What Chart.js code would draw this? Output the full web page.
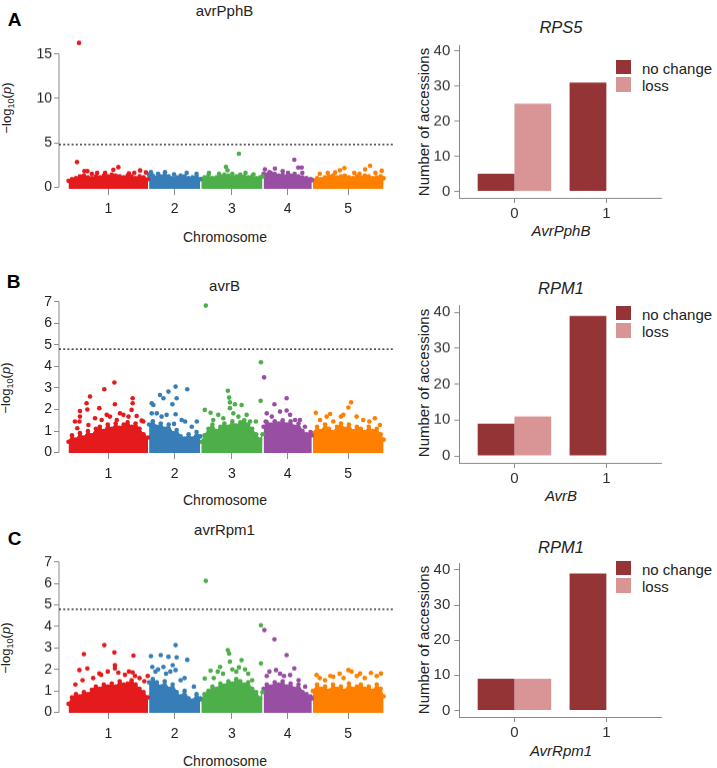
<!DOCTYPE html>
<html>
<head>
<meta charset="utf-8">
<script src="https://cdn.jsdelivr.net/npm/chart.js@4.4.1/dist/chart.umd.min.js"></script>
<style>
  body { margin: 0; width: 717px; height: 768px; position: relative; overflow: hidden; background: #fff;
         font-family: "Liberation Sans", Arial, sans-serif; color: #222; }
  canvas { position: absolute; }
  .t { position: absolute; white-space: nowrap; line-height: 1; transform: translate(-50%, -50%); }
  .rot { transform: translate(-50%, -50%) rotate(-90deg); }
  .letter { font-weight: bold; font-size: 19px; color: #000; }
  .mt { font-size: 15px; }
  .mx { font-size: 14px; }
  .my { font-size: 13px; }
  .my sub { font-size: 70%; vertical-align: -0.25em; }
  .bt { font-size: 16.5px; font-style: italic; }
  .bx { font-size: 15px; font-style: italic; }
  .by { font-size: 15px; }
  .sw { position: absolute; left: 616px; width: 15px; height: 14.5px; }
  .lg { position: absolute; left: 642px; font-size: 15px; line-height: 1; transform: translateY(-50%); white-space: nowrap; }
</style>
</head>
<body>

<div class="t letter" style="left:14.5px;top:19.3px">A</div>
<div class="t letter" style="left:13.5px;top:280.5px">B</div>
<div class="t letter" style="left:14.5px;top:538.3px">C</div>

<div class="t mt" style="left:224.5px;top:10px">avrPphB</div>
<div class="t mt" style="left:224.5px;top:285px">avrB</div>
<div class="t mt" style="left:224.5px;top:528.7px">avrRpm1</div>

<div class="t mx" style="left:225px;top:237px">Chromosome</div>
<div class="t mx" style="left:225px;top:500.3px">Chromosome</div>
<div class="t mx" style="left:225px;top:760.8px">Chromosome</div>

<div class="t my rot" style="left:8px;top:107.5px">&minus;log<sub>10</sub>(<i>p</i>)</div>
<div class="t my rot" style="left:7px;top:388px">&minus;log<sub>10</sub>(<i>p</i>)</div>
<div class="t my rot" style="left:7px;top:648px">&minus;log<sub>10</sub>(<i>p</i>)</div>

<div class="t bt" style="left:561px;top:27.2px">RPS5</div>
<div class="t bt" style="left:561px;top:288.3px">RPM1</div>
<div class="t bt" style="left:561px;top:546.7px">RPM1</div>

<div class="t bx" style="left:561px;top:230.3px">AvrPphB</div>
<div class="t bx" style="left:561px;top:495.3px">AvrB</div>
<div class="t bx" style="left:561px;top:750px">AvrRpm1</div>

<div class="t by rot" style="left:422.5px;top:121.7px">Number of accessions</div>
<div class="t by rot" style="left:422.5px;top:383.3px">Number of accessions</div>
<div class="t by rot" style="left:422.5px;top:640px">Number of accessions</div>

<div class="sw" style="top:59.7px;background:#943436"></div>
<div class="sw" style="top:77px;background:#d99596"></div>
<div class="lg" style="top:67.5px">no change</div>
<div class="lg" style="top:84.5px">loss</div>
<div class="sw" style="top:305.7px;background:#943436"></div>
<div class="sw" style="top:323px;background:#d99596"></div>
<div class="lg" style="top:313.5px">no change</div>
<div class="lg" style="top:330.5px">loss</div>
<div class="sw" style="top:560.7px;background:#943436"></div>
<div class="sw" style="top:578px;background:#d99596"></div>
<div class="lg" style="top:568.5px">no change</div>
<div class="lg" style="top:585.5px">loss</div>

<script>
// chromosomes (cumulative Mb)
const chromNames = ['1', '2', '3', '4', '5'];
const chromStart = [0, 30.4, 50.1, 73.6, 92.2];
const chromEnd = [30.4, 50.1, 73.6, 92.2, 119.2];
const chromColors = ['#e41a1c', '#377eb8', '#4daf4a', '#984ea3', '#ff7f00'];
const threshold = 4.8;

// dense SNP cloud: upper edge per chromosome [pos, -log10 p]
const envA = [
  [[0.2,0.7],[1.5,0.9],[3,1.0],[4.5,1.2],[6,1.3],[7.5,1.1],[9,1.0],[10.5,1.2],[12,1.1],[13.5,1.3],[15,1.2],[16.5,1.4],[18,1.3],[19.5,1.2],[21,1.1],[22.5,1.3],[24,1.2],[25.5,1.0],[27,1.2],[28.5,1.1],[30.2,0.9]],
  [[30.6,1.4],[32,1.3],[33.5,1.1],[35,1.2],[36.5,1.4],[38,1.2],[39.5,1.0],[41,1.1],[42.5,1.3],[44,1.2],[45.5,1.0],[47,1.1],[48.5,1.2],[49.9,0.9]],
  [[50.3,0.9],[51.5,1.1],[53,1.3],[54.5,1.0],[56,1.1],[57.5,1.2],[59,1.4],[60.5,1.3],[62,1.1],[63.5,1.2],[65,1.4],[66.5,1.2],[68,1.1],[69.5,1.2],[71,1.0],[72.5,1.1],[73.4,1.2]],
  [[73.8,1.5],[75,1.4],[76.5,1.6],[78,1.5],[79.5,1.3],[81,1.4],[82.5,1.2],[84,1.3],[85.5,1.5],[87,1.2],[88.5,1.1],[90,1.0],[91.5,0.9],[92.0,0.8]],
  [[92.4,0.8],[94,1.0],[95.5,0.9],[97,1.1],[98.5,1.2],[100,1.3],[101.5,1.1],[103,1.2],[104.5,1.3],[106,1.1],[107.5,1.0],[109,1.2],[110.5,1.1],[112,1.3],[113.5,1.2],[115,1.0],[116.5,1.1],[118,1.2],[119.1,1.0]]
];
const envB = [
  [[0.2,0.5],[1.5,0.8],[3,0.6],[4.5,0.9],[6,0.7],[7.5,1.0],[9,0.8],[10.5,1.1],[12,1.2],[13.5,1.0],[15,1.3],[16.5,1.1],[18,1.35],[19.5,1.15],[21,1.3],[22.5,1.4],[24,1.2],[25.5,1.35],[27,1.1],[28.5,0.85],[30.2,0.7]],
  [[30.6,1.3],[32,1.45],[33.5,1.2],[35,1.35],[36.5,1.1],[38,1.3],[39.5,0.9],[41,1.05],[42.5,0.75],[44,0.65],[45.5,0.85],[47,0.65],[48.5,0.95],[49.9,0.75]],
  [[50.3,0.5],[51.5,0.8],[53,1.1],[54.5,1.3],[56,1.0],[57.5,1.2],[59,1.35],[60.5,1.2],[62,1.45],[63.5,1.25],[65,1.4],[66.5,1.5],[68,1.3],[69.5,1.1],[71,0.85],[72.5,0.6],[73.4,0.85]],
  [[73.8,1.2],[75,1.4],[76.5,1.3],[78,1.45],[79.5,1.35],[81,1.5],[82.5,1.3],[84,1.45],[85.5,1.2],[87,1.35],[88.5,1.0],[90,0.85],[91.5,0.95],[92.0,0.8]],
  [[92.4,0.9],[94,1.2],[95.5,1.0],[97,1.3],[98.5,1.1],[100,0.95],[101.5,1.2],[103,1.35],[104.5,1.1],[106,1.3],[107.5,1.0],[109,1.2],[110.5,1.1],[112,0.95],[113.5,1.2],[115,1.0],[116.5,1.1],[118,0.85],[119.1,0.6]]
];
const envC = [
  [[0.2,0.4],[1.5,0.7],[3,0.85],[4.5,0.75],[6,0.95],[7.5,0.85],[9,1.05],[10.5,1.2],[12,1.1],[13.5,1.3],[15,1.2],[16.5,1.35],[18,1.2],[19.5,1.45],[21,1.3],[22.5,1.35],[24,1.5],[25.5,1.3],[27,1.1],[28.5,0.95],[30.2,0.7]],
  [[30.6,1.4],[32,1.55],[33.5,1.4],[35,1.2],[36.5,1.45],[38,1.1],[39.5,1.3],[41,0.95],[42.5,0.75],[44,1.0],[45.5,0.65],[47,0.55],[48.5,0.85],[49.9,0.65]],
  [[50.3,0.6],[51.5,0.85],[53,1.0],[54.5,1.2],[56,1.1],[57.5,1.35],[59,1.25],[60.5,1.45],[62,1.35],[63.5,1.55],[65,1.45],[66.5,1.3],[68,1.4],[69.5,1.1],[71,0.95],[72.5,0.65],[73.4,0.95]],
  [[73.8,1.1],[75,1.3],[76.5,1.2],[78,1.4],[79.5,1.3],[81,1.45],[82.5,1.2],[84,1.35],[85.5,1.1],[87,1.3],[88.5,0.95],[90,0.85],[91.5,0.75],[92.0,0.65]],
  [[92.4,1.0],[94,1.3],[95.5,1.1],[97,1.2],[98.5,1.0],[100,1.3],[101.5,1.1],[103,1.2],[104.5,1.0],[106,1.35],[107.5,1.1],[109,1.2],[110.5,1.3],[112,1.1],[113.5,1.2],[115,1.0],[116.5,1.3],[118,1.1],[119.1,0.75]]
];

// SNPs standing out above the cloud [pos, -log10 p]
const ptsA = [[4.15,16.27],[3.4,2.82],[6.2,1.8],[7.3,1.8],[11,1.6],[17.1,1.95],[19,2.25],[23,1.55],[27.2,1.88],[29.4,1.65],
  [9,1.5],[14,1.6],[25,1.6],
  [31.3,1.7],[36.6,1.7],[44.8,1.6],[48.5,1.5],[34,1.5],[40,1.45],
  [53.2,1.6],[59.6,2.3],[60.2,1.9],[64.5,3.76],[67,1.6],[57,1.5],[62,1.5],[70,1.45],
  [74.3,2.0],[78.1,2.1],[81,1.8],[85.4,3.08],[86.9,2.2],[88.2,2.2],[88.4,1.6],[76,1.7],[83,1.6],
  [100.8,1.65],[102.6,1.9],[104.3,2.15],[108,1.6],[112.1,2.0],[114,2.4],[118.4,1.85],[95,1.5],[98,1.6],[110,1.5],[116,1.6]];
const ptsB = [[4.5,1.93],[4.5,1.67],[4.3,1.44],[7.0,2.29],[8.3,2.6],[7.3,2.0],[11.8,2.06],[13.7,2.94],[17.5,3.25],[17.7,2.24],[24.4,2.52],[24.4,2.29],[24.0,1.98],[27.8,1.48],[15.8,1.67],[19.6,1.82],
  [2.6,1.44],[3.5,1.13],[7.7,1.28],[10.2,1.59],[12.7,1.51],[14.6,1.75],[18.4,1.51],[20.9,1.75],[22.8,1.67],[25.9,1.7],[28.4,1.44],
  [31.6,2.29],[32.2,2.21],[34.7,2.67],[36.0,2.52],[37.9,2.83],[40.6,3.06],[41.0,2.52],[39.4,2.24],[45.0,2.94],[40.6,1.78],[40.0,1.33],[31.6,1.82],[48.6,1.44],
  [33.5,1.82],[35.3,1.67],[37.2,1.75],[42.9,1.51],[44.2,1.44],[46.7,1.2],
  [52.0,6.82],[51.6,1.98],[53.8,1.85],[60.3,2.87],[60.8,2.55],[61.1,2.33],[63.0,2.24],[65.5,2.21],[61.1,2.06],[72.8,4.19],[72.7,2.4],[70.9,1.44],
  [54.8,1.51],[56.7,1.75],[58.6,1.59],[62.4,1.82],[64.3,1.67],[67.4,1.75],[68.7,1.44],
  [74.0,3.49],[77.9,2.24],[82.5,2.52],[82.5,1.95],[74.6,1.44],[87.5,1.51],
  [75.0,1.82],[76.9,1.67],[80.0,1.9],[83.8,1.75],[85.7,1.51],[89.4,1.2],
  [93.5,1.85],[98.9,1.79],[106.8,2.33],[105.8,2.09],[103.0,1.67],[113.7,1.44],[117.7,1.28],
  [95.1,1.51],[97.6,1.67],[100.1,1.44],[103.9,1.75],[108.9,1.67],[111.4,1.51],[115.8,1.59]];
const ptsC = [[6.0,2.71],[7.3,2.05],[4.3,1.97],[13.7,3.13],[17.5,2.79],[17.7,2.2],[17.7,2.05],[24.7,2.64],[24.4,1.86],[25.3,1.7],[30.1,1.7],[11.8,1.81],
  [2.8,1.3],[5.5,1.5],[9.5,1.6],[12.5,1.75],[15,1.9],[19,1.85],[21.5,1.75],[23,1.9],[27,1.6],[28.8,1.45],
  [31.3,2.62],[35.0,2.67],[37.9,2.59],[40.6,3.13],[41.0,2.56],[45.0,2.45],[39.5,2.2],[40.6,1.97],[31.8,2.12],[36.0,2.12],
  [33,1.9],[34,2.0],[37,1.8],[38.6,1.9],[42.5,1.5],[44,1.6],[47.5,1.2],
  [52.0,6.12],[51.6,1.58],[53.8,1.94],[57.4,2.12],[60.3,2.9],[60.8,2.74],[61.1,2.36],[62.0,2.0],[65.5,2.43],[66.8,2.0],[72.8,4.06],[72.8,2.28],
  [55,1.6],[56.5,1.9],[58.5,1.8],[63.5,1.9],[64.5,2.1],[68,1.8],[69.5,1.5],
  [74.1,3.83],[77.9,3.4],[82.5,2.67],[85.4,2.05],[78.5,1.97],[83.8,1.74],
  [75,1.7],[76,1.9],[80,1.8],[81.5,1.7],[87,1.5],[89.5,1.2],
  [105.8,1.97],[110.2,1.81],[114.3,1.84],[118.1,1.81],[93.8,1.74],[100.1,1.66],
  [95,1.6],[97,1.5],[99,1.7],[102.5,1.8],[104,1.6],[107,1.9],[109,1.7],[112,1.6],[116.5,1.7]];

// bar charts
const barCats = [0, 1];
const rps5NoChange = [5, 31];
const rps5Loss = [25, 0];
const rpm1AvrBNoChange = [9, 39];
const rpm1AvrBLoss = [11, 0];
const rpm1AvrRpm1NoChange = [9, 39];
const rpm1AvrRpm1Loss = [9, 0];
const barTicks = [0, 10, 20, 30, 40];

Chart.defaults.font.family = '"Liberation Sans", Arial, sans-serif';
Chart.defaults.animation = false;

function colorAt(pos) {
  for (let i = 0; i < chromEnd.length; i++) if (pos < chromEnd[i]) return chromColors[i];
  return chromColors[4];
}

function addCanvas(left, top, w, h) {
  const c = document.createElement('canvas');
  c.width = w; c.height = h;
  c.style.left = left + 'px'; c.style.top = top + 'px';
  c.style.width = w + 'px'; c.style.height = h + 'px';
  document.body.appendChild(c);
  return c;
}

// R style y axis: line only from 0 to the last tick
const rAxis = {
  id: 'rAxis',
  beforeDatasetsDraw(chart, args, opts) {
    const y = chart.scales.y, ctx = chart.ctx, x0 = chart.chartArea.left;
    ctx.save();
    ctx.strokeStyle = '#8a8a8a';
    ctx.lineWidth = 1;
    ctx.beginPath();
    ctx.moveTo(x0, y.getPixelForValue(0));
    ctx.lineTo(x0, y.getPixelForValue(opts.top));
    ctx.stroke();
    ctx.restore();
  }
};

const xMin = -3.4, xMax = 122.64;
const mids = chromStart.map((s, i) => (s + chromEnd[i]) / 2);

const manhattan = [
  { env: envA, pts: ptsA, yMin: -0.2, yMax: 17.5, yTicks: [0, 5, 10, 15], top: 0, zero: 187, k: 8.87, pad: 6, base: -0.2 },
  { env: envB, pts: ptsB, yMin: -0.02, yMax: 7.4, yTicks: [0, 1, 2, 3, 4, 5, 6, 7], top: 265, zero: 452.7, k: 21.57, pad: 7, base: -0.08 },
  { env: envC, pts: ptsC, yMin: -0.02, yMax: 7.4, yTicks: [0, 1, 2, 3, 4, 5, 6, 7], top: 525, zero: 712.3, k: 21.5, pad: 7, base: -0.08 }
];

manhattan.forEach(p => {
  const pt = p.zero - p.yMax * p.k - p.top;
  const h = (p.zero - p.yMin * p.k) - p.top + 30;
  const cv = addCanvas(0, p.top, 400, Math.round(h * 100) / 100);

  const datasets = [{
    data: p.pts.map(([x, y]) => ({ x, y })),
    pointRadius: 2.3, pointBorderWidth: 0,
    pointBackgroundColor: c => colorAt(c.raw.x),
    clip: false
  }];
  p.env.forEach((seg, i) => datasets.push({
    data: seg.map(([x, y]) => ({ x, y })),
    showLine: true, tension: 0,
    borderColor: chromColors[i], borderWidth: 1,
    backgroundColor: chromColors[i],
    fill: { value: p.base },
    pointRadius: 2.3, pointBorderWidth: 0, pointBackgroundColor: chromColors[i],
    clip: false
  }));
  datasets.push({
    data: [{ x: xMin, y: threshold }, { x: xMax, y: threshold }],
    showLine: true, borderColor: '#111', borderWidth: 1.4, borderDash: [2, 2.2],
    pointRadius: 0, clip: false
  });

  new Chart(cv, {
    type: 'scatter',
    data: { datasets },
    plugins: [rAxis],
    options: {
      responsive: false,
      devicePixelRatio: 1,
      layout: { padding: { top: pt, right: 7, left: 0, bottom: 0 } },
      plugins: { legend: { display: false }, tooltip: { enabled: false }, rAxis: { top: p.yTicks[p.yTicks.length - 1] } },
      scales: {
        x: {
          type: 'linear', min: xMin, max: xMax,
          afterBuildTicks: s => { s.ticks = mids.map(v => ({ value: v })); },
          afterFit: s => { s.height = 30; },
          border: { display: false },
          grid: { display: true, drawOnChartArea: false, drawTicks: true, tickLength: 6, color: '#8a8a8a' },
          ticks: { autoSkip: false, maxRotation: 0, padding: p.pad, color: '#222', font: { size: 14 },
                   callback: (v, i) => chromNames[i] }
        },
        y: {
          min: p.yMin, max: p.yMax,
          afterBuildTicks: s => { s.ticks = p.yTicks.map(v => ({ value: v })); },
          afterFit: s => { s.width = 59; },
          border: { display: false },
          grid: { display: true, drawOnChartArea: false, drawTicks: true, tickLength: 5, color: '#8a8a8a' },
          ticks: { padding: 2, color: '#222', font: { size: 14 } }
        }
      }
    }
  });
});

const bars = [
  { noChange: rps5NoChange, loss: rps5Loss, top: 20, zero: 191, k: 3.5, yMin: -1.9, yMax: 41.7 },
  { noChange: rpm1AvrBNoChange, loss: rpm1AvrBLoss, top: 280, zero: 455.7, k: 3.585, yMin: -1.95, yMax: 42.0 },
  { noChange: rpm1AvrRpm1NoChange, loss: rpm1AvrRpm1Loss, top: 540, zero: 710.7, k: 3.5175, yMin: -1.88, yMax: 41.9 }
];

bars.forEach(b => {
  const pt = b.zero - b.yMax * b.k - b.top;
  const h = (b.zero - b.yMin * b.k) - b.top + 30;
  const cv = addCanvas(400, b.top, 317, Math.round(h * 100) / 100);
  new Chart(cv, {
    type: 'bar',
    data: {
      datasets: [
        { label: 'no change', data: barCats.map((c, i) => ({ x: c, y: b.noChange[i] })), backgroundColor: '#943436' },
        { label: 'loss', data: barCats.map((c, i) => ({ x: c, y: b.loss[i] })), backgroundColor: '#d99596' }
      ]
    },
    options: {
      responsive: false,
      devicePixelRatio: 1,
      layout: { padding: { top: pt, right: 55.5, left: 0, bottom: 0 } },
      categoryPercentage: 0.8,
      barPercentage: 1.0,
      plugins: { legend: { display: false }, tooltip: { enabled: false } },
      scales: {
        x: {
          type: 'linear', min: -0.6, max: 1.6, offset: false,
          afterBuildTicks: s => { s.ticks = barCats.map(v => ({ value: v })); },
          afterFit: s => { s.height = 30; },
          border: { display: true, color: '#8a8a8a', width: 1 },
          grid: { display: true, drawOnChartArea: false, drawTicks: true, tickLength: 5, color: '#8a8a8a', offset: false },
          ticks: { padding: 2, color: '#333', font: { size: 15 }, callback: v => String(v) }
        },
        y: {
          min: b.yMin, max: b.yMax,
          afterBuildTicks: s => { s.ticks = barTicks.map(v => ({ value: v })); },
          afterFit: s => { s.width = 59.3; },
          border: { display: true, color: '#8a8a8a', width: 1 },
          grid: { display: true, drawOnChartArea: false, drawTicks: true, tickLength: 5, color: '#8a8a8a' },
          ticks: { padding: 4, color: '#333', font: { size: 15 } }
        }
      }
    }
  });
});
</script>
</body>
</html>
